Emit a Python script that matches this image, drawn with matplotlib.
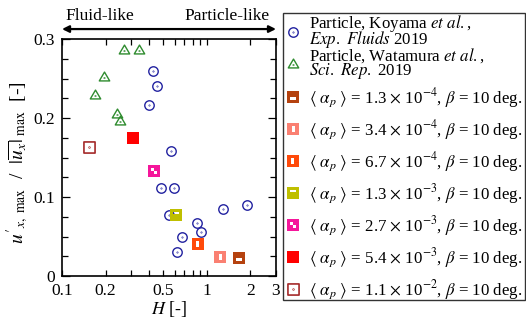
import matplotlib
matplotlib.use("Agg")
import matplotlib.pyplot as plt
import matplotlib.patches as patches
from matplotlib.path import Path
from matplotlib.ticker import FixedLocator, FixedFormatter, MultipleLocator

plt.rcParams["font.family"] = ["Liberation Serif", "DejaVu Serif"]
plt.rcParams["mathtext.fontset"] = "stix"

# data
koyama_H = [0.425, 0.455, 0.398, 0.562, 0.482, 0.590, 0.545, 0.677, 0.622, 0.855, 0.906, 1.30, 1.88]
koyama_u = [0.260, 0.240, 0.216, 0.158, 0.111, 0.111, 0.077, 0.050, 0.030, 0.067, 0.056, 0.085, 0.090]
watamura_H = [0.268, 0.342, 0.194, 0.169, 0.241, 0.251]
watamura_u = [0.287, 0.287, 0.253, 0.230, 0.206, 0.197]

alpha_mant = ["1.3", "3.4", "6.7", "1.3", "2.7", "5.4", "1.1"]
alpha_exp = [-4, -4, -4, -3, -3, -3, -2]
alpha_H = [1.67, 1.23, 0.863, 0.612, 0.434, 0.307, 0.154]
alpha_u = [0.0232, 0.0245, 0.0405, 0.077, 0.133, 0.175, 0.163]
alpha_colors = ["#b5420f", "#fa8072", "#ff4a0a", "#bfbf00", "#f5169b", "#ff0000", "#a52a2a"]


def rect(x0, y0, x1, y1, hole=False):
    v = [(x0, y0), (x1, y0), (x1, y1), (x0, y1), (x0, y0)]
    if hole:
        v = v[::-1]
    return Path(v, [Path.MOVETO, Path.LINETO, Path.LINETO, Path.LINETO, Path.CLOSEPOLY])


def holed_square(holes):
    return Path.make_compound_path(rect(-1, -1, 1, 1), *[rect(*h, hole=True) for h in holes])


dot = Path.circle((0, 0), 0.06)
circle_marker = Path.make_compound_path(Path.unit_circle(), dot)
tri = Path([(0, 0.85), (-1, -0.85), (1, -0.85), (0, 0.85)],
           [Path.MOVETO, Path.LINETO, Path.LINETO, Path.CLOSEPOLY])
tri_marker = Path.make_compound_path(tri, Path.circle((0, -0.3), 0.06))

# white cut-outs of each square marker
alpha_markers = [
    holed_square([(-0.57, -0.5, 0.57, 0.0)]),
    holed_square([(-0.25, -0.6, 0.3, 0.6)]),
    holed_square([(-0.4, -0.55, 0.25, 0.55)]),
    holed_square([(-0.55, 0.1, 0.55, 0.5)]),
    holed_square([(-0.55, 0.0, 0.0, 0.55), (0.0, -0.55, 0.55, 0.0)]),
    holed_square([]),
    Path.make_compound_path(rect(-1, -1, 1, 1), dot),
]

fig = plt.figure(figsize=(5.26, 3.24), dpi=100)
ax = fig.add_axes([0.1179, 0.1481, 0.4068, 0.7315])

h_koy, = ax.plot(koyama_H, koyama_u, ls="none", marker=circle_marker, ms=6.8,
                 mfc="none", mec="#2222a0", mew=1.0)
h_wat, = ax.plot(watamura_H, watamura_u, ls="none", marker=tri_marker, ms=7.5,
                 mfc="none", mec="#2e8b2e", mew=1.0)

alpha_handles = []
for i in range(len(alpha_H)):
    if i == len(alpha_H) - 1:
        h, = ax.plot(alpha_H[i], alpha_u[i], ls="none", marker=alpha_markers[i], ms=8,
                     mfc="none", mec=alpha_colors[i], mew=1.2)
    else:
        h, = ax.plot(alpha_H[i], alpha_u[i], ls="none", marker=alpha_markers[i], ms=8,
                     mfc=alpha_colors[i], mec="none", mew=0)
    alpha_handles.append(h)

ax.set_xscale("log")
ax.set_xlim(0.1, 3)
ax.set_ylim(0, 0.3)
ax.xaxis.set_major_locator(FixedLocator([0.1, 0.2, 0.5, 1, 2, 3]))
ax.xaxis.set_major_formatter(FixedFormatter(["0.1", "0.2", "0.5", "1", "2", "3"]))
ax.xaxis.set_minor_locator(FixedLocator([0.3, 0.4, 0.6, 0.7, 0.8, 0.9]))
ax.xaxis.set_minor_formatter(FixedFormatter([]))
ax.yaxis.set_major_locator(FixedLocator([0, 0.1, 0.2, 0.3]))
ax.yaxis.set_major_formatter(FixedFormatter(["0", "0.1", "0.2", "0.3"]))
ax.yaxis.set_minor_locator(MultipleLocator(0.025))
ax.tick_params(which="both", direction="in", top=True, right=True, labelsize=12.5, width=0.9)
ax.tick_params(axis="y", which="major", length=6, pad=5)
ax.tick_params(axis="y", which="minor", length=4)
ax.tick_params(axis="x", which="major", length=4, pad=5)
ax.tick_params(axis="x", which="minor", length=4)
for s in ax.spines.values():
    s.set_linewidth(1.2)

ax.set_xlabel(r"$H$ [-]", fontsize=13, labelpad=0)
ax.set_ylabel(r"$u'_{x,\ \mathrm{max}}$  /  $|\overline{u_x}|_{\ \mathrm{max}}$  [-]", fontsize=14)
ax.yaxis.set_label_coords(-0.145, 0.48)

# regime arrow above the axes
ax.annotate("", xy=(0, 1.042), xytext=(1, 1.042), xycoords="axes fraction",
            arrowprops=dict(arrowstyle="<|-|>", color="black", lw=1.6,
                            mutation_scale=10, shrinkA=0, shrinkB=0))
ax.text(0.015, 1.062, "Fluid-like", transform=ax.transAxes, fontsize=12.5, va="bottom")
ax.text(0.97, 1.062, "Particle-like", transform=ax.transAxes, fontsize=12.5,
        va="bottom", ha="right")

# legend: two stacks inside one frame
leg1 = fig.legend([h_koy, h_wat],
                  ["Particle, Koyama $\\mathit{et\\ al.}$,\n$\\mathit{Exp.\\ Fluids}$ 2019",
                   "Particle, Watamura $\\mathit{et\\ al.}$,\n$\\mathit{Sci.\\ Rep.}$ 2019"],
                  loc="upper left", bbox_to_anchor=(285.5 / 526, 1 - 13 / 324),
                  frameon=False, fontsize=12.2, borderpad=0, borderaxespad=0,
                  handlelength=0.9, handletextpad=0.5, labelspacing=-0.26)
for t in leg1.get_texts():
    t.set_linespacing(0.7)

alpha_labels = [r"$\langle\ \alpha_p\ \rangle$ = %s $\times$ 10$^{%d}$, $\beta$ = 10 deg." % (m, e)
                for m, e in zip(alpha_mant, alpha_exp)]
leg2 = fig.legend(alpha_handles, alpha_labels,
                  loc="upper left", bbox_to_anchor=(285.5 / 526, 1 - 86 / 324),
                  frameon=False, fontsize=12.2, borderpad=0, borderaxespad=0,
                  handlelength=0.9, handletextpad=0.5, labelspacing=0.5)

fig.add_artist(patches.Rectangle((283 / 526, 1 - 300 / 324), 242 / 526, 287 / 324,
                                 transform=fig.transFigure, fill=False,
                                 ec="#333333", lw=1.0))

fig.savefig("out.png", dpi=100)
